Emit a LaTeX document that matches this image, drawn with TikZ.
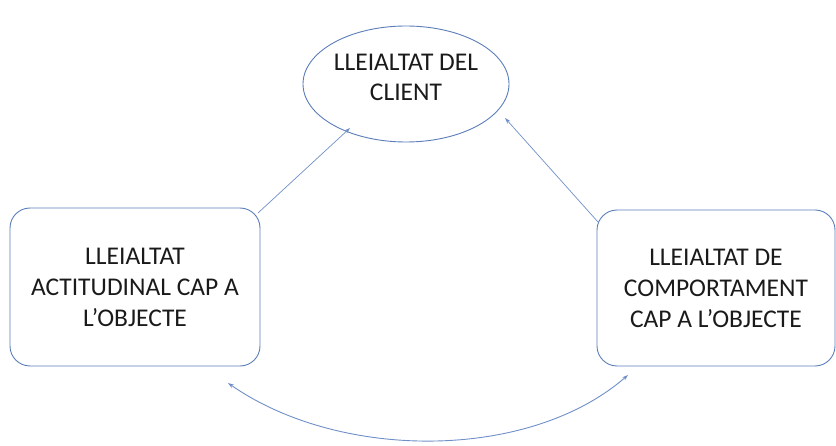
\documentclass[tikz,border=0pt]{standalone}
\usepackage{fontspec}
\setmainfont{Carlito}
\usetikzlibrary{arrows.meta,shapes.geometric}
\definecolor{edge}{HTML}{5B7DB8}
\definecolor{arr}{HTML}{6F8FC8}
\definecolor{txt}{HTML}{1A1A1A}
\tikzset{
  box/.style={draw=edge, line width=0.9pt, rounded corners=20pt, align=center, text=txt,
              font=\fontsize{25.5}{31}\selectfont, inner sep=0pt},
  oval/.style={draw=edge, line width=0.9pt, ellipse, align=center, text=txt,
              font=\fontsize{25.5}{30}\selectfont, inner sep=0pt},
  link/.style={draw=arr, line width=0.7pt, -{Stealth[length=6pt,width=4pt]}},
  dlink/.style={draw=arr, line width=0.9pt, {Stealth[length=6pt,width=4pt]}-{Stealth[length=6pt,width=4pt]}}
}
\begin{document}
\begin{tikzpicture}[x=1pt,y=-1pt]
\useasboundingbox (0,0) rectangle (836,446);
\node[oval, minimum width=206pt, minimum height=116pt] (E) at (406,84) {LLEIALTAT DEL\\CLIENT\\[-16pt]};
\node[box, minimum width=250pt, minimum height=158pt] (L) at (135,287) {LLEIALTAT\\ACTITUDINAL CAP A\\L’OBJECTE};
\node[box, minimum width=238pt, minimum height=156pt] (R) at (716,288) {LLEIALTAT DE\\COMPORTAMENT\\CAP A L’OBJECTE};
\coordinate (ls) at (258,213);
\coordinate (le) at (350,128);
\coordinate (rs) at (598,222);
\coordinate (re) at (505,118);
\coordinate (bs) at (228,383);
\coordinate (be) at (628,375);
\draw[link] (ls) -- (le);
\draw[link] (rs) -- (re);
\draw[dlink] (bs) .. controls (340,461) and (529,461) .. (be);
\end{tikzpicture}
\end{document}
